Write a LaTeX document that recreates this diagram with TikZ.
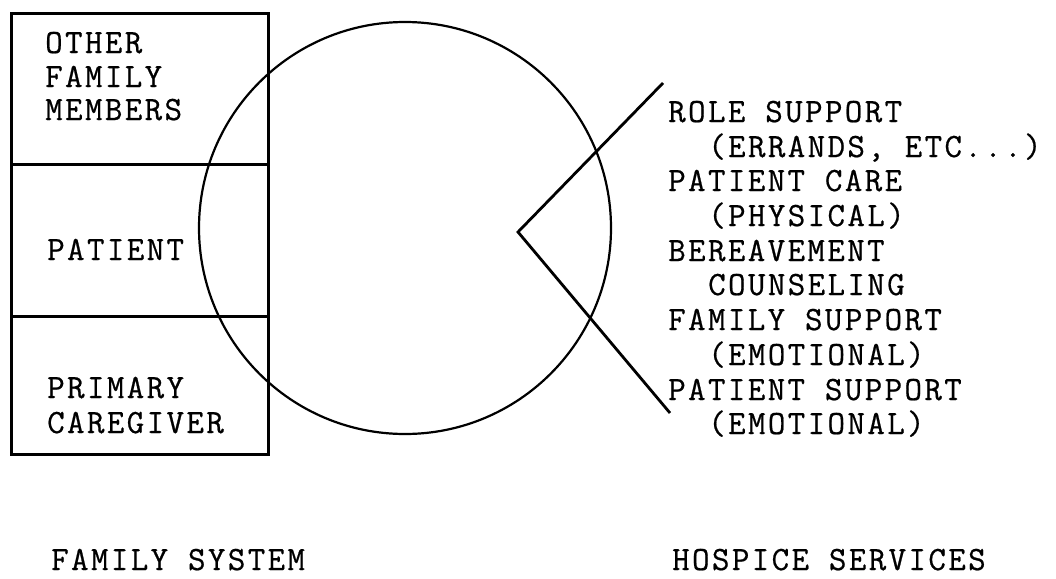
\documentclass[tikz,border=0pt]{standalone}
\usepackage{fontspec}
\newfontfamily\typewriter{Latin Modern Mono}[LetterSpace=7,FakeBold=0.6]
\newcommand{\typed}{\typewriter\fontsize{34}{34}\selectfont}
\begin{document}
\begin{tikzpicture}[x=1pt,y=-1pt,
  cell/.style={draw,line width=2.6pt,minimum width=257pt,inner sep=0pt,anchor=north west},
  lbl/.style={anchor=base west,inner sep=0pt,font=\typed},
  wedge/.style={line width=2.8pt},
  ring/.style={line width=2.2pt}]
\useasboundingbox (0,0) rectangle (1056,578);
% family system column
\node[cell,minimum height=151pt] (other) at (10,12) {};
\node[cell,minimum height=152pt] (patient) at (10,163) {};
\node[cell,minimum height=138pt] (caregiver) at (10,315) {};
\node[lbl] (t1) at (45,53) {OTHER};
\node[lbl] (t2) at (45,87) {FAMILY};
\node[lbl] (t3) at (45,120) {MEMBERS};
\node[lbl] (t4) at (47,260) {PATIENT};
\node[lbl] (t5) at (47,398) {PRIMARY};
\node[lbl] (t6) at (47,433) {CAREGIVER};
% circle
\node[ring,draw,circle,minimum size=412pt,inner sep=0pt] (c) at (405,228) {};
% wedge
\coordinate (wtop) at (663,83);
\coordinate (wv) at (518,232);
\coordinate (wbot) at (670,413);
\draw[wedge] (wtop) -- (wv) -- (wbot);
% hospice services list
\node[lbl] (s1) at (668,122) {ROLE SUPPORT};
\node[lbl] (s2) at (708,157) {(ERRANDS, ETC...)};
\node[lbl] (s3) at (668,191) {PATIENT CARE};
\node[lbl] (s4) at (708,226) {(PHYSICAL)};
\node[lbl] (s5) at (668,261) {BEREAVEMENT};
\node[lbl] (s6) at (708,295) {COUNSELING};
\node[lbl] (s7) at (668,330) {FAMILY SUPPORT};
\node[lbl] (s8) at (708,365) {(EMOTIONAL)};
\node[lbl] (s9) at (668,400) {PATIENT SUPPORT};
\node[lbl] (s10) at (708,434) {(EMOTIONAL)};
% captions
\node[lbl] (fs) at (51,570) {FAMILY SYSTEM};
\node[lbl] (hs) at (672,570) {HOSPICE SERVICES};
\end{tikzpicture}
\end{document}
